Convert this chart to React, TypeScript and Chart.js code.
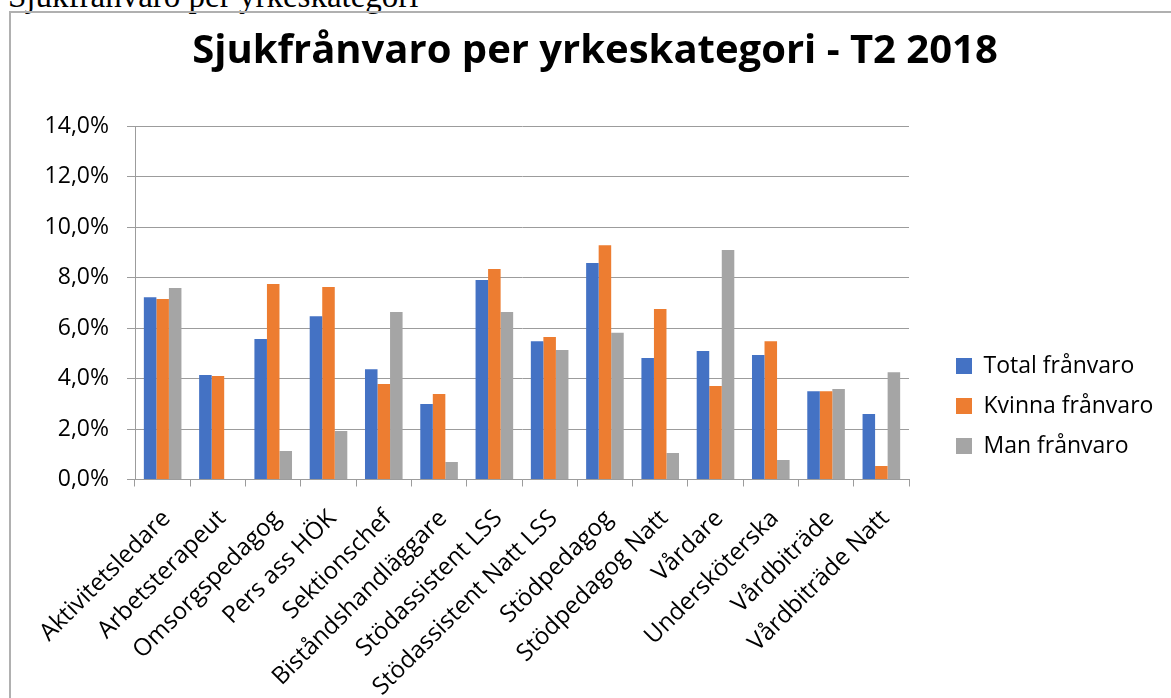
import React, { useEffect, useRef } from "react";
import { Chart, registerables } from "chart.js";

Chart.register(...registerables);

const categories = [
  "Aktivitetsledare",
  "Arbetsterapeut",
  "Omsorgspedagog",
  "Pers ass HÖK",
  "Sektionschef",
  "Biståndshandläggare",
  "Stödassistent LSS",
  "Stödassistent Natt LSS",
  "Stödpedagog",
  "Stödpedagog Natt",
  "Vårdare",
  "Undersköterska",
  "Vårdbiträde",
  "Vårdbiträde Natt",
];

const totalFranvaro = [7.22, 4.14, 5.56, 6.47, 4.37, 2.99, 7.9, 5.48, 8.57, 4.81, 5.09, 4.93, 3.5, 2.59];
const kvinnaFranvaro = [7.15, 4.1, 7.74, 7.62, 3.78, 3.39, 8.34, 5.64, 9.28, 6.75, 3.7, 5.48, 3.5, 0.53];
const manFranvaro = [7.58, 0, 1.13, 1.92, 6.63, 0.69, 6.63, 5.13, 5.81, 1.05, 9.09, 0.77, 3.58, 4.25];

const seriesNames = ["Total frånvaro", "Kvinna frånvaro", "Man frånvaro"];
const seriesColors = ["#4472C4", "#ED7D31", "#A5A5A5"];

const yTicks = [0, 2, 4, 6, 8, 10, 12, 14];

const chartTitle = "Sjukfrånvaro per yrkeskategori - T2 2018";
const pageHeading = "Sjukfrånvaro per yrkeskategori";

const FONT = "'Open Sans', Lato, sans-serif";
const GRID = "#9c9c9c";
const CANVAS_W = 1168;
const CANVAS_H = 786;
const CHART_LEFT = 124; // canvas px
const CHART_BOTTOM = 466.5; // canvas px
const LEGEND_PAD = 17;
const LEGEND_LEFT = 945 - LEGEND_PAD; // canvas px (legend box left)
const GAP_AXIS = 30;

export default function App() {
  const ref = useRef<HTMLCanvasElement | null>(null);

  useEffect(() => {
    if (!ref.current) return;
    const state = { pad: 0 };

    const chart = new Chart(ref.current, {
      type: "bar",
      data: {
        labels: categories,
        datasets: [totalFranvaro, kvinnaFranvaro, manFranvaro].map((d, i) => ({
          label: seriesNames[i],
          data: d,
          backgroundColor: seriesColors[i],
          borderWidth: 0,
          categoryPercentage: 0.68,
          barPercentage: 1.0,
          yAxisID: "y",
        })),
      },
      options: {
        animation: false,
        responsive: false,
        layout: { padding: { left: 0, right: 0, top: 0, bottom: 0 } },
        plugins: {
          title: {
            display: true,
            text: chartTitle,
            color: "#000",
            font: { family: FONT, size: 40, weight: "bold" },
            padding: { top: 15, bottom: 50 },
          },
          legend: {
            position: "right",
            align: "center",
            maxWidth: 500,
            labels: {
              color: "#000",
              font: { family: FONT, size: 23 },
              boxWidth: 16,
              boxHeight: 16,
              padding: LEGEND_PAD,
            },
          },
          tooltip: { enabled: false },
        },
        scales: {
          x: {
            offset: true,
            grid: {
              display: true,
              offset: true,
              drawOnChartArea: false,
              drawTicks: true,
              tickLength: 7,
              color: GRID,
            },
            border: { display: true, color: GRID },
            ticks: {
              color: "#000",
              font: { family: FONT, size: 24 },
              maxRotation: 45,
              minRotation: 45,
              autoSkip: false,
              padding: 18,
              labelOffset: 4,
            },
            afterFit: (s: any) => {
              s.height = CANVAS_H - CHART_BOTTOM;
            },
          },
          y: {
            position: "left",
            min: yTicks[0],
            max: yTicks[yTicks.length - 1],
            afterBuildTicks: (s: any) => {
              s.ticks = yTicks.map((v) => ({ value: v }));
            },
            ticks: {
              color: "#000",
              font: { family: FONT, size: 23 },
              padding: 18,
              callback: (v: any) => Number(v).toFixed(1).replace(".", ",") + "%",
            },
            grid: { color: GRID, tickLength: 8 },
            border: { display: true, color: GRID },
            afterFit: (s: any) => {
              s.width = CHART_LEFT - state.pad;
            },
          },
          yRight: {
            position: "right",
            display: true,
            grid: { display: false, drawTicks: false },
            border: { display: false },
            ticks: { display: false },
            afterFit: (s: any) => {
              s.width = GAP_AXIS;
            },
          },
        },
      },
    });

    for (let k = 0; k < 3; k++) {
      const lw = chart.legend ? chart.legend.width : 0;
      const pad = Math.max(0, CANVAS_W - LEGEND_LEFT - lw);
      if (Math.abs(pad - state.pad) < 0.01) break;
      state.pad = pad;
      (chart.options as any).layout.padding = { left: pad, right: pad, top: 0, bottom: 0 };
      chart.update();
    }

    return () => chart.destroy();
  }, []);

  return (
    <div
      style={{
        position: "fixed",
        inset: 0,
        overflow: "hidden",
        background: "#fff",
      }}
    >
      <div
        style={{
          position: "absolute",
          left: 8,
          top: -23,
          fontFamily: "'Liberation Serif', 'Times New Roman', serif",
          fontSize: 33,
          lineHeight: "38px",
          whiteSpace: "nowrap",
          color: "#000",
        }}
      >
        {pageHeading}
      </div>
      <div
        style={{
          position: "absolute",
          left: 9,
          top: 11,
          width: 1300,
          height: 900,
          border: "2px solid #b0b0b0",
          boxSizing: "border-box",
        }}
      >
        <canvas
          ref={ref}
          width={CANVAS_W}
          height={CANVAS_H}
          style={{ display: "block", width: CANVAS_W, height: CANVAS_H }}
        />
      </div>
    </div>
  );
}
